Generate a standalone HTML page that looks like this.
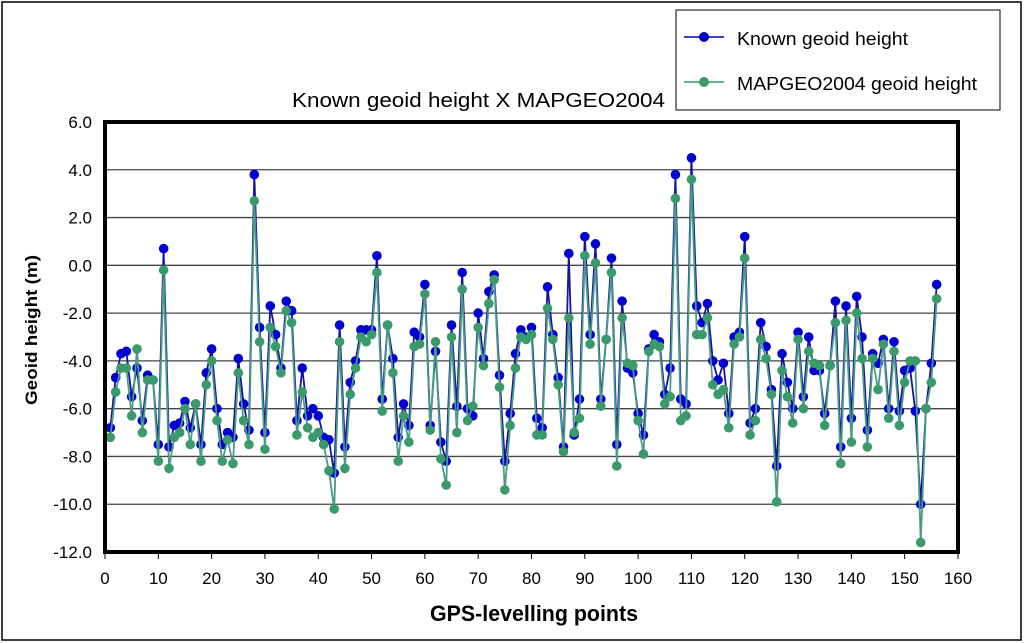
<!DOCTYPE html>
<html><head><meta charset="utf-8"><style>
body{margin:0;background:#fff}
svg{display:block;font-family:"Liberation Sans",sans-serif}
</style></head><body>
<svg id="chart" width="1024" height="643">
<rect x="2" y="2" width="1019" height="638" fill="#fff" stroke="#000" stroke-width="1.5"/>
<text x="292" y="107" font-size="20" textLength="373" lengthAdjust="spacingAndGlyphs">Known geoid height X MAPGEO2004</text>
<g>
<rect x="676" y="10" width="324" height="100" fill="#fff" stroke="#000" stroke-width="1"/>
<g><line x1="684" y1="37" x2="724" y2="37" stroke="#0000c8" stroke-width="1.5"/><circle cx="704" cy="37" r="5" fill="#0000d0"/><text x="737" y="45" font-size="18" textLength="171" lengthAdjust="spacingAndGlyphs">Known geoid height</text></g>
<g><line x1="684" y1="82" x2="724" y2="82" stroke="#3a9a6a" stroke-width="1.5"/><circle cx="704" cy="82" r="5" fill="#3a9a6a"/><text x="737" y="90" font-size="18" textLength="240" lengthAdjust="spacingAndGlyphs">MAPGEO2004 geoid height</text></g>
</g>
<g id="grid"></g>
<g id="yticks"></g>
<g id="xticks"></g>
<g id="series"></g>
<rect x="105" y="122" width="853" height="430" fill="none" stroke="#000" stroke-width="4"/>
<text x="430" y="621" font-size="22" font-weight="bold" textLength="208" lengthAdjust="spacingAndGlyphs">GPS-levelling points</text>
<text transform="translate(37,330) rotate(-90)" font-size="17" font-weight="bold" text-anchor="middle" textLength="150" lengthAdjust="spacingAndGlyphs">Geoid height (m)</text>
</svg>
<script>
const yTicks=[6,4,2,0,-2,-4,-6,-8,-10,-12];
const yTickLabels=["6.0","4.0","2.0","0.0","-2.0","-4.0","-6.0","-8.0","-10.0","-12.0"];
const xTicks=[0,10,20,30,40,50,60,70,80,90,100,110,120,130,140,150,160];
const known=[-6.8,-4.7,-3.7,-3.6,-5.5,-4.3,-6.5,-4.6,-4.8,-7.5,0.7,-7.6,-6.7,-6.6,-5.7,-6.8,-5.8,-7.5,-4.5,-3.5,-6.0,-7.5,-7.0,-7.2,-3.9,-5.8,-6.9,3.8,-2.6,-7.0,-1.7,-2.9,-4.3,-1.5,-1.9,-6.5,-4.3,-6.3,-6.0,-6.3,-7.2,-7.3,-8.7,-2.5,-7.6,-4.9,-4.0,-2.7,-2.7,-2.7,0.4,-5.6,-2.5,-3.9,-7.2,-5.8,-6.7,-2.8,-3.0,-0.8,-6.7,-3.6,-7.4,-8.2,-2.5,-5.9,-0.3,-6.0,-6.3,-2.0,-3.9,-1.1,-0.4,-4.6,-8.2,-6.2,-3.7,-2.7,-3.0,-2.6,-6.4,-6.8,-0.9,-2.9,-4.7,-7.6,0.5,-7.1,-5.6,1.2,-2.9,0.9,-5.6,-3.1,0.3,-7.5,-1.5,-4.3,-4.5,-6.2,-7.1,-3.5,-2.9,-3.2,-5.4,-4.3,3.8,-5.6,-5.8,4.5,-1.7,-2.4,-1.6,-4.0,-4.8,-4.1,-6.2,-3.0,-2.8,1.2,-6.6,-6.0,-2.4,-3.4,-5.2,-8.4,-3.7,-4.9,-6.0,-2.8,-5.5,-3.0,-4.4,-4.4,-6.2,-4.2,-1.5,-7.6,-1.7,-6.4,-1.3,-3.0,-6.9,-3.7,-4.1,-3.1,-6.0,-3.2,-6.1,-4.4,-4.3,-6.1,-10.0,-6.0,-4.1,-0.8];
const mapgeo=[-7.2,-5.3,-4.3,-4.3,-6.3,-3.5,-7.0,-4.8,-4.8,-8.2,-0.2,-8.5,-7.2,-7.0,-6.0,-7.5,-5.8,-8.2,-5.0,-4.0,-6.5,-8.2,-7.3,-8.3,-4.5,-6.5,-7.5,2.7,-3.2,-7.7,-2.6,-3.4,-4.5,-1.9,-2.4,-7.1,-5.3,-6.8,-7.2,-7.0,-7.5,-8.6,-10.2,-3.2,-8.5,-5.4,-4.3,-3.0,-3.2,-2.9,-0.3,-6.1,-2.5,-4.5,-8.2,-6.3,-7.4,-3.4,-3.3,-1.2,-6.9,-3.2,-8.1,-9.2,-3.0,-7.0,-1.0,-6.5,-5.9,-2.6,-4.2,-1.6,-0.6,-5.1,-9.4,-6.7,-4.3,-3.0,-3.1,-2.9,-7.1,-7.1,-1.8,-3.1,-5.0,-7.8,-2.2,-7.0,-6.4,0.4,-3.3,0.1,-5.9,-3.1,-0.3,-8.4,-2.2,-4.1,-4.2,-6.5,-7.9,-3.6,-3.3,-3.4,-5.8,-5.5,2.8,-6.5,-6.3,3.6,-2.9,-2.9,-2.2,-5.0,-5.4,-5.2,-6.8,-3.3,-3.0,0.3,-7.1,-6.5,-3.1,-3.9,-5.4,-9.9,-4.4,-5.5,-6.6,-3.1,-6.0,-3.6,-4.1,-4.2,-6.7,-4.2,-2.4,-8.3,-2.3,-7.4,-2.0,-3.9,-7.6,-3.9,-5.2,-3.3,-6.4,-3.6,-6.7,-4.9,-4.0,-4.0,-11.6,-6.0,-4.9,-1.4];
const NS="http://www.w3.org/2000/svg";
const X0=105,X1=958,Y0=122,Y1=552;
function xs(v){return X0+(v-0)/(160-0)*(X1-X0);}
function ys(v){return Y1-(v-(-12))/(6-(-12))*(Y1-Y0);}
function mk(tag,attrs,parent){const e=document.createElementNS(NS,tag);for(const k in attrs)e.setAttribute(k,attrs[k]);parent.appendChild(e);return e;}
const grid=document.getElementById('grid'),yt=document.getElementById('yticks'),xt=document.getElementById('xticks'),ser=document.getElementById('series');
yTicks.forEach((v,i)=>{
 const l=mk('line',{x1:X0,x2:X1,y1:ys(v),y2:ys(v),stroke:'#444','stroke-width':1.3},grid);
 
 
 const t=mk('text',{x:92,y:ys(v)+6,'font-size':17,'text-anchor':'end'},yt);
 t.textContent=yTickLabels[i];
 
 
});
xTicks.forEach(v=>{
 const l=mk('line',{x1:xs(v),x2:xs(v),y1:Y1,y2:Y1+7,stroke:'#000','stroke-width':1},xt);
 
 
 const t=mk('text',{x:xs(v),y:Y1+32,'font-size':17,'text-anchor':'middle'},xt);
 t.textContent=String(v);
 
 
});
function drawSeries(data,color,lineColor,name){
 const g=mk('g',{},ser);
 
 
 const pts=data.map((v,i)=>xs(i+1).toFixed(1)+','+ys(v).toFixed(1)).join(' ');
 const pl=mk('polyline',{points:pts,fill:'none',stroke:lineColor,'stroke-width':1.8},g);
 
 
 data.forEach((v,i)=>{
  const c=mk('circle',{cx:xs(i+1),cy:ys(v),r:4.8,fill:color},g);
  
  
 });
}
drawSeries(known,'#0000d0','#14149a','known-series');
drawSeries(mapgeo,'#3a9a6a','#4a9a8a','mapgeo-series');
</script>
</body></html>
